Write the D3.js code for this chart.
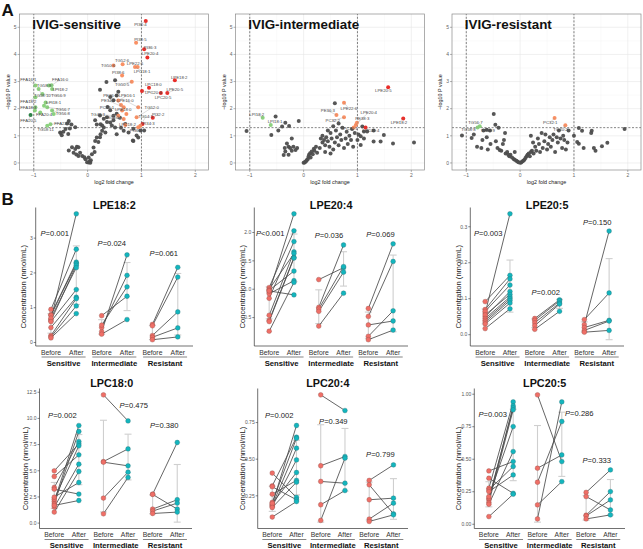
<!DOCTYPE html>
<html>
<head>
<meta charset="utf-8">
<script src="https://cdn.jsdelivr.net/npm/d3@7"></script>
<style>
  body { margin: 0; background: #fff; }
  text { font-family: "Liberation Sans", Arial, sans-serif; }
</style>
</head>
<body>
<script>
// ---------- panel A data: [log2 fold change, -log10 P, class, name] ----------
// class: n = not significant, r = up (FC>=2), o = up, g = down, d = down (FC<=0.5)
var sensitivePts = [
  [-0.50,1.10,"n"],[-0.48,1.02,"n"],[-0.45,1.15,"n"],[-0.36,1.07,"n"],[-0.33,1.27,"n"],[-0.35,1.55,"n"],
  [-0.30,1.42,"n"],[-0.51,1.12,"n"],[-0.41,1.25,"n"],[-0.38,1.45,"n"],[-0.23,0.51,"n"],[-0.14,0.38,"n"],
  [-0.10,0.26,"n"],[-0.26,0.38,"n"],[-0.17,0.26,"n"],[-0.04,0.14,"n"],[-0.01,0.03,"n"],[0.02,0.02,"n"],
  [0.04,0.06,"n"],[0.05,0.01,"n"],[0.02,0.20,"n"],[0.08,0.32,"n"],[0.11,0.57,"n"],[0.14,0.81,"n"],
  [0.17,0.94,"n"],[0.24,1.06,"n"],[0.27,1.19,"n"],[0.30,1.31,"n"],[-0.20,0.60,"n"],[-0.17,0.58,"n"],
  [-0.21,0.31,"n"],[-0.06,0.21,"n"],[0.06,0.10,"n"],[0.13,0.40,"n"],[0.20,0.77,"n"],[0.23,0.95,"n"],
  [0.24,1.43,"n"],[0.42,1.49,"n"],[0.51,1.31,"n"],[0.54,1.06,"n"],[0.67,1.19,"n"],[0.76,1.12,"n"],
  [0.85,0.81,"n"],[0.94,0.94,"n"],[0.48,1.74,"n"],[0.36,1.68,"n"],[0.35,2.98,"n"],[0.23,2.70,"n"],
  [0.51,3.05,"n"],[0.54,2.49,"n"],[0.48,2.31,"n"],[0.42,2.43,"n"],[0.57,2.62,"n"],[0.37,2.06,"n"],
  [0.42,1.94,"n"],[0.23,1.75,"n"],[0.30,1.63,"n"],[0.36,1.51,"n"],[0.27,1.38,"n"],[0.48,1.57,"n"],
  [0.54,1.81,"n"],[0.60,1.67,"n"],[0.70,1.44,"n"],[0.17,1.42,"n"],[0.14,1.57,"n"],[0.85,1.26,"n"],
  [0.91,1.01,"n"],[0.98,1.20,"n"],[0.84,0.83,"n"],[1.05,1.20,"n"],[-0.23,1.32,"n"],[-0.29,0.58,"n"],
  [-0.35,0.46,"n"],[0.45,1.38,"n"],[0.33,1.12,"n"],[0.62,1.30,"n"],
  [1.08,5.23,"r","PI36:4"],[1.05,4.19,"r","PI36:3"],[1.11,3.89,"r","LPE20:4"],[1.62,3.05,"r","LPE18:2"],
  [1.14,2.77,"r","LPC18:0"],[1.01,2.65,"r","LPC20:4"],[1.36,2.58,"r","LPC20:5"],[1.48,2.58,"r","LPE20:5"],
  [1.21,1.67,"r","PI32:2"],[1.02,1.44,"r","PI34:3"],
  [0.90,4.43,"o","PI38:5"],[0.65,3.64,"o","TG52:6"],[0.48,3.59,"o","TG50:6"],[0.93,3.54,"o","LPE22:6"],
  [0.88,3.54,"o","LPC18:1"],[0.64,3.22,"o","PI38:6"],[0.82,2.99,"o","TG50:5"],[0.57,2.30,"o","LPE16:1"],
  [0.62,2.14,"o","PE36:3"],[0.94,2.05,"o","LPE16:0"],[0.67,2.05,"o","PE34:2"],[0.64,1.93,"o","PC36:1"],
  [0.72,1.80,"o","LPE18:0"],[0.91,1.68,"o","TG52:0"],[0.57,1.74,"o","TG48:3"],[0.67,1.62,"o","TG54:0"],
  [0.98,1.37,"o","TG54:1"],[0.70,1.40,"o","LPC18:2"],[0.94,1.32,"o","PI36:0"],
  [-0.97,2.85,"g","FFA16:1"],[-0.67,2.86,"g","FFA16:0"],[-0.72,2.85,"g","TG58:9"],[-0.66,2.73,"g","LPI18:2"],
  [-0.91,2.73,"g","TG58:10"],[-0.84,2.54,"g","TG56:9"],[-0.97,2.42,"g","FFA18:2"],[-0.78,2.23,"g","LPI18:1"],
  [-0.81,2.11,"g"],[-0.97,2.05,"g","FFA18:3"],[-0.75,2.05,"g","TG56:7"],[-0.66,1.93,"g","TG56:8"],
  [-0.98,1.93,"g"],[-0.88,1.86,"g","FFA20:4"],[-0.63,1.80,"g"],[-1.06,1.77,"d","FFA20:5"],
  [-0.69,1.43,"g","FFA22:6"],[-0.75,1.37,"g","TG58:11"]
];
var sensitiveLabels = [
  ["PI36:4",0.98,5.11],["PI38:5",0.98,4.56],["PI36:3",1.16,4.27],["LPE20:4",1.16,4.03],["TG52:6",0.64,3.78],
  ["TG50:6",0.38,3.59],["LPE22:6",0.88,3.68],["LPC18:1",1.01,3.38],["PI38:6",0.57,3.34],["LPE18:2",1.70,3.16],
  ["TG50:5",0.64,2.90],["LPC18:0",1.22,2.91],["LPC20:4",1.22,2.60],["LPE20:5",1.62,2.69],["LPC20:5",1.40,2.40],
  ["LPE16:1",0.73,2.48],["PE36:3",0.42,2.48],["PE34:2",0.38,2.30],["LPE16:0",0.70,2.30],["PC36:1",0.36,2.05],
  ["LPE18:0",0.66,1.96],["TG52:0",1.19,2.03],["TG48:3",0.19,1.78],["TG54:0",0.45,1.68],["TG54:1",1.08,1.70],
  ["PI32:2",1.31,1.78],["LPC18:2",0.74,1.41],["PI34:3",1.13,1.46],["PI36:0",0.90,1.19],
  ["FFA16:1",-1.10,3.07],["FFA16:0",-0.51,3.07],["TG58:9",-0.81,2.86],["LPI18:2",-0.51,2.71],["TG58:10",-0.84,2.49],
  ["TG56:9",-0.54,2.49],["FFA18:2",-1.10,2.27],["LPI18:1",-0.63,2.21],["FFA18:3",-1.10,2.03],["TG56:7",-0.46,1.97],
  ["TG56:8",-0.46,1.83],["FFA20:4",-0.81,1.80],["FFA20:5",-1.10,1.56],["FFA22:6",-0.47,1.46],["TG58:11",-0.78,1.25]
];

var intermediatePts = [
  [0.58,2.20,"n"],[-0.52,1.71,"n"],[-0.09,1.55,"n"],[-0.34,1.48,"n"],[-0.27,1.36,"n"],[-0.40,1.34,"n"],
  [-1.06,1.18,"n"],[-0.60,1.03,"n"],[-0.31,0.72,"n"],[-0.28,0.60,"n"],[-0.25,0.55,"n"],[-0.34,0.42,"n"],
  [-0.37,0.29,"n"],[-0.19,0.60,"n"],[-0.12,0.55,"n"],[-0.22,0.45,"n"],[-0.28,0.30,"n"],[-0.15,0.48,"n"],
  [-0.35,0.55,"n"],[0.00,0.01,"n"],[0.03,0.04,"n"],[0.06,0.11,"n"],[0.09,0.23,"n"],[0.12,0.36,"n"],
  [0.15,0.42,"n"],[0.19,0.52,"n"],[0.23,0.60,"n"],[0.02,0.02,"n"],[0.05,0.07,"n"],[0.08,0.15,"n"],
  [0.10,0.30,"n"],[0.13,0.20,"n"],[0.17,0.32,"n"],[0.20,0.45,"n"],[0.25,0.38,"n"],[0.35,0.75,"n"],
  [0.38,0.85,"n"],[0.40,0.65,"n"],[0.42,0.95,"n"],[0.45,0.80,"n"],[0.48,0.60,"n"],[0.50,1.10,"n"],
  [0.52,0.90,"n"],[0.55,0.50,"n"],[0.58,0.75,"n"],[0.60,1.20,"n"],[0.62,0.95,"n"],[0.65,0.65,"n"],
  [0.68,1.05,"n"],[0.70,0.85,"n"],[0.72,1.30,"n"],[0.75,0.55,"n"],[0.78,0.90,"n"],[0.80,1.15,"n"],
  [0.82,0.70,"n"],[0.85,1.00,"n"],[0.88,0.85,"n"],[0.90,1.25,"n"],[0.92,0.60,"n"],[0.95,1.10,"n"],
  [0.35,1.00,"n"],[0.30,0.55,"n"],[0.45,1.20,"n"],[0.55,1.35,"n"],[0.40,0.40,"n"],[0.32,0.90,"n"],
  [0.65,1.45,"n"],[0.50,0.35,"n"],[1.09,1.34,"n"],[1.12,1.16,"n"],[1.18,1.16,"n"],[1.06,0.98,"n"],
  [1.30,1.20,"n"],[1.49,1.03,"n"],[1.30,0.79,"n"],[1.43,0.79,"n"],[1.06,0.66,"n"],[1.66,0.72,"n"],
  [2.05,0.75,"n"],[1.12,0.90,"n"],[1.00,0.85,"n"],[1.02,1.05,"n"],[-0.47,1.20,"n"],[-0.22,0.90,"n"],
  [1.57,2.79,"r","LPE20:5"],[1.85,1.64,"r","LPE18:2"],[1.15,1.31,"r","LPC20:4"],
  [0.75,2.22,"o","LPE22:6"],[0.61,1.77,"o","PE36:3"],[0.75,1.68,"o","PC32:2"],[0.99,1.48,"o","LPE20:4"],
  [0.97,1.40,"o","PE38:3"],[0.93,1.31,"o","PC36:1"],
  [-0.76,1.67,"g","LPI18:2"],[-0.61,1.40,"g","LPI18:1"]
];
var intermediateLabels = [
  ["LPE20:5",1.48,2.66],["LPE18:2",1.77,1.48],["LPE22:6",0.84,2.01],["PE36:3",0.45,1.92],["PC32:2",0.54,1.56],
  ["LPE20:4",1.21,1.86],["PE38:3",1.09,1.64],["PC36:1",0.87,1.27],["LPC20:4",1.25,1.18],
  ["LPI18:2",-0.87,1.79],["LPI18:1",-0.53,1.52]
];

var resistantPts = [
  [-0.49,1.80,"n"],[-0.46,1.41,"n"],[-0.40,1.30,"n"],[-1.08,1.01,"n"],[-0.90,0.92,"n"],[-0.86,1.05,"n"],
  [-0.68,1.20,"n"],[-0.56,1.20,"n"],[-0.62,0.95,"n"],[-0.70,0.85,"n"],[-0.80,0.60,"n"],[-0.72,0.55,"n"],
  [-0.60,0.50,"n"],[-0.45,0.80,"n"],[-0.42,0.55,"n"],[-0.38,0.48,"n"],[-0.35,0.45,"n"],[-0.32,0.70,"n"],
  [-0.30,0.85,"n"],[-0.28,1.10,"n"],[-0.27,0.35,"n"],[-0.24,0.40,"n"],[-0.22,0.30,"n"],[-0.20,0.25,"n"],
  [-0.18,0.30,"n"],[-0.15,0.20,"n"],[-0.12,0.15,"n"],[-0.10,0.12,"n"],[-0.07,0.08,"n"],[-0.05,0.05,"n"],
  [-0.03,0.03,"n"],[0.00,0.01,"n"],[0.02,0.02,"n"],[0.04,0.05,"n"],[0.06,0.08,"n"],[0.08,0.12,"n"],
  [0.10,0.18,"n"],[0.12,0.25,"n"],[0.14,0.30,"n"],[0.16,0.35,"n"],[0.18,0.25,"n"],[0.20,0.40,"n"],
  [0.22,0.45,"n"],[0.25,0.35,"n"],[0.20,1.00,"n"],[0.24,0.75,"n"],[0.28,0.60,"n"],[0.30,0.45,"n"],
  [0.33,0.90,"n"],[0.35,0.70,"n"],[0.37,0.40,"n"],[0.40,1.10,"n"],[0.42,0.55,"n"],[0.45,0.80,"n"],
  [0.47,1.05,"n"],[0.50,0.50,"n"],[0.52,0.70,"n"],[0.55,0.95,"n"],[0.57,0.60,"n"],[0.60,0.85,"n"],
  [0.62,1.05,"n"],[0.65,0.40,"n"],[0.68,0.95,"n"],[0.70,0.75,"n"],[0.72,1.20,"n"],[0.75,0.90,"n"],
  [0.78,0.55,"n"],[0.80,1.00,"n"],[0.82,0.85,"n"],[0.85,0.50,"n"],[0.88,0.75,"n"],[0.90,1.20,"n"],
  [1.09,1.29,"n"],[1.15,1.19,"n"],[1.33,1.19,"n"],[1.32,1.10,"n"],[1.06,0.77,"n"],[1.09,0.71,"n"],
  [1.18,0.55,"n"],[1.37,0.55,"n"],[1.40,0.45,"n"],[1.52,0.62,"n"],[1.62,0.74,"n"],[1.94,1.25,"n"],
  [1.00,1.00,"n"],[-0.10,0.40,"n"],[-0.55,0.70,"n"],[-0.62,1.22,"n","TG58:9"],
  [0.64,1.66,"o","PC32:1"],[0.84,1.39,"o","TG60:2"],
  [-0.75,1.35,"g","TG56:7"],[-0.79,1.31,"g","TG58:8"]
];
var resistantLabels = [
  ["PC32:1",0.56,1.50],["TG60:2",0.75,1.24],["TG56:7",-0.83,1.48],["TG58:8",-0.96,1.25],["TG58:9",-0.60,1.19]
];

// ---------- panel B data: [group, before, after] per patient ----------
var lpe182 = [
  ["Sensitive",0.66,3.70],["Sensitive",0.95,2.68],["Sensitive",0.80,2.31],["Sensitive",0.78,2.27],
  ["Sensitive",0.62,2.22],["Sensitive",0.70,2.15],["Sensitive",0.60,1.52],["Sensitive",0.43,1.30],
  ["Sensitive",0.20,1.26],["Sensitive",0.16,1.05],["Sensitive",0.13,0.83],
  ["Intermediate",0.31,2.52],["Intermediate",0.43,1.93],["Intermediate",0.50,1.60],["Intermediate",0.77,1.33],["Intermediate",0.24,0.66],
  ["Resistant",0.52,2.16],["Resistant",0.48,1.88],["Resistant",0.20,0.88],["Resistant",0.15,0.42],["Resistant",0.08,0.16]
];
var lpe204 = [
  ["Sensitive",0.95,2.33],["Sensitive",1.03,2.03],["Sensitive",0.84,1.84],["Sensitive",0.54,1.66],
  ["Sensitive",1.00,1.63],["Sensitive",0.45,1.56],["Sensitive",0.43,1.55],["Sensitive",0.98,1.32],
  ["Sensitive",0.92,1.15],["Sensitive",0.26,1.12],["Sensitive",0.97,0.90],
  ["Intermediate",1.17,1.38],["Intermediate",0.68,1.78],["Intermediate",0.65,1.40],["Intermediate",0.61,1.30],["Intermediate",0.35,0.93],
  ["Resistant",0.66,1.80],["Resistant",0.52,1.49],["Resistant",0.37,0.44],["Resistant",0.17,0.62],["Resistant",0.11,0.28]
];
var lpe205 = [
  ["Sensitive",0.060,0.336],["Sensitive",0.092,0.165],["Sensitive",0.070,0.155],["Sensitive",0.065,0.138],
  ["Sensitive",0.050,0.120],["Sensitive",0.055,0.112],["Sensitive",0.045,0.105],["Sensitive",0.040,0.100],
  ["Sensitive",0.035,0.095],["Sensitive",0.030,0.088],["Sensitive",0.017,0.072],
  ["Intermediate",0.045,0.097],["Intermediate",0.040,0.094],["Intermediate",0.033,0.088],["Intermediate",0.025,0.085],["Intermediate",0.015,0.065],
  ["Resistant",0.028,0.288],["Resistant",0.042,0.116],["Resistant",0.020,0.040],["Resistant",0.012,0.038],["Resistant",0.007,0.012]
];
var lpc180 = [
  ["Sensitive",2.07,9.32],["Sensitive",1.84,8.75],["Sensitive",3.40,7.79],["Sensitive",4.99,7.57],
  ["Sensitive",2.29,7.38],["Sensitive",4.45,6.52],["Sensitive",1.53,5.63],["Sensitive",1.05,4.93],
  ["Sensitive",2.48,3.88],["Sensitive",3.24,2.77],["Sensitive",1.69,2.16],
  ["Intermediate",12.25,9.76],["Intermediate",5.88,7.09],["Intermediate",5.82,5.47],["Intermediate",2.39,4.87],["Intermediate",0.89,4.36],
  ["Resistant",2.77,7.70],["Resistant",2.74,1.34],["Resistant",1.34,2.23],["Resistant",1.15,1.91],["Resistant",0.92,1.05]
];
var lpc204 = [
  ["Sensitive",0.190,0.730],["Sensitive",0.318,0.650],["Sensitive",0.205,0.643],["Sensitive",0.184,0.575],
  ["Sensitive",0.177,0.495],["Sensitive",0.198,0.409],["Sensitive",0.261,0.355],["Sensitive",0.170,0.343],
  ["Sensitive",0.405,0.239],["Sensitive",0.312,0.223],["Sensitive",0.105,0.211],
  ["Intermediate",0.939,0.832],["Intermediate",0.455,0.518],["Intermediate",0.348,0.336],["Intermediate",0.189,0.286],["Intermediate",0.082,0.507],
  ["Resistant",0.355,0.461],["Resistant",0.325,0.127],["Resistant",0.223,0.234],["Resistant",0.091,0.200],["Resistant",0.075,0.120]
];
var lpc205 = [
  ["Sensitive",0.277,0.941],["Sensitive",0.187,0.910],["Sensitive",0.200,0.895],["Sensitive",0.167,0.880],
  ["Sensitive",0.213,0.751],["Sensitive",0.154,0.559],["Sensitive",0.410,0.482],["Sensitive",0.264,0.444],
  ["Sensitive",0.251,0.379],["Sensitive",0.354,0.238],["Sensitive",0.059,0.231],
  ["Intermediate",0.995,0.482],["Intermediate",0.431,0.533],["Intermediate",0.323,0.790],["Intermediate",0.149,0.328],["Intermediate",0.041,0.941],
  ["Resistant",0.245,0.418],["Resistant",0.213,0.110],["Resistant",0.070,0.251],["Resistant",0.064,0.187],["Resistant",0.041,0.072]
];

var groups = ["Sensitive", "Intermediate", "Resistant"];
var times = ["Before", "After"];

// p value text and where it sits: [text, x (0..5 along the six columns), y in data units]
var pLpe182 = [["=0.001",0.15,3.14],["=0.024",2.4,2.84],["=0.061",4.45,2.55]];
var pLpe204 = [["<0.001",0.04,1.98],["=0.036",2.41,1.95],["=0.069",4.49,1.97]];
var pLpe205 = [["=0.003",0.12,0.281],["=0.002",2.44,0.118],["=0.150",4.52,0.313]];
var pLpc180 = [["=0.002",0.33,10.33],["=0.475",3.23,11.29],["=0.380",4.47,9.38]];
var pLpc204 = [["=0.002",0.29,0.802],["=0.349",2.52,0.761],["=0.799",4.46,0.534]];
var pLpc205 = [["=0.003",0.16,0.846],["=0.286",3.72,0.854],["=0.333",4.44,0.495]];

var ticksLpe182 = ["0","1","2","3"];
var ticksLpe204 = ["0.5","1.0","1.5","2.0"];
var ticksLpe205 = ["0.0","0.1","0.2","0.3"];
var ticksLpc180 = ["0.0","2.5","5.0","7.5","10.0","12.5"];
var ticksLpc204 = ["0.25","0.50","0.75"];
var ticksLpc205 = ["0.00","0.25","0.50","0.75","1.00"];

var volcanoXTicks = ["-1","0","1","2"];
var volcanoYTicks = ["0","1","2","3","4","5"];

var ptColor = {n: "#4d4d4d", r: "#e8221e", o: "#f98a5c", g: "#86cf78", d: "#1e7a3a"};

var svg = d3.select("body").append("svg")
    .attr("width", 643)
    .attr("height", 549)
    .style("background", "#fff");

//---------------- volcano panels ----------------
function volcano(left, title, pts, labels){
    var x = d3.scaleLinear().domain([-1.265, 2.245]).range([left, left + 189]),
        y = d3.scaleLinear().domain([-0.26, 5.49]).range([170, 14]);
    var g = svg.append("g");
    var x0 = x.range()[0], x1 = x.range()[1], y0 = y.range()[0], y1 = y.range()[1];

    //grid, minor then major
    g.selectAll(".vmin").data([-0.5, 0.5, 1.5]).enter().append("line")
      .attr("x1", x).attr("x2", x).attr("y1", y0).attr("y2", y1)
      .attr("stroke", "#f2f2f2").attr("stroke-width", 0.4);
    g.selectAll(".hmin").data([0.5, 1.5, 2.5, 3.5, 4.5]).enter().append("line")
      .attr("x1", x0).attr("x2", x1).attr("y1", y).attr("y2", y)
      .attr("stroke", "#f2f2f2").attr("stroke-width", 0.4);
    g.selectAll(".vmaj").data(volcanoXTicks.map(Number)).enter().append("line")
      .attr("x1", x).attr("x2", x).attr("y1", y0).attr("y2", y1)
      .attr("stroke", "#e6e6e6").attr("stroke-width", 0.6);
    g.selectAll(".hmaj").data(volcanoYTicks.map(Number)).enter().append("line")
      .attr("x1", x0).attr("x2", x1).attr("y1", y).attr("y2", y)
      .attr("stroke", "#e6e6e6").attr("stroke-width", 0.6);

    //threshold lines
    g.selectAll(".thr").data([-1, 1]).enter().append("line")
      .attr("x1", x).attr("x2", x).attr("y1", y0).attr("y2", y1)
      .attr("stroke", "#333").attr("stroke-width", 0.6).attr("stroke-dasharray", "2,1.6");
    g.append("line")
      .attr("x1", x0).attr("x2", x1).attr("y1", y(1.301)).attr("y2", y(1.301))
      .attr("stroke", "#333").attr("stroke-width", 0.6).attr("stroke-dasharray", "2,1.6");

    //points, grey first
    var order = pts.slice().sort(function(a, b){ return (a[2] === "n" ? 0 : 1) - (b[2] === "n" ? 0 : 1); });
    g.selectAll(".pt").data(order).enter().append("circle")
      .attr("cx", function(d){ return x(d[0]); })
      .attr("cy", function(d){ return y(d[1]); })
      .attr("r", 2.0)
      .attr("fill", function(d){ return ptColor[d[2]]; })
      .attr("fill-opacity", 0.95);

    //repelled labels with segments
    var byName = {};
    pts.forEach(function(d){ if (d[3]) byName[d[3]] = d; });
    labels.forEach(function(l){
      var p = byName[l[0]], lx = x(l[1]), ly = y(l[2]);
      if (p) {
        var px = x(p[0]), py = y(p[1]);
        if (Math.hypot(px - lx, py - ly) > 6) {
          g.append("line").attr("x1", lx).attr("y1", ly).attr("x2", px).attr("y2", py)
            .attr("stroke", "#888").attr("stroke-width", 0.3);
        }
      }
      g.append("text").attr("x", lx).attr("y", ly).attr("dy", "0.35em")
        .attr("text-anchor", "middle").attr("font-size", 4.3).attr("fill", "#444")
        .text(l[0]);
    });

    //border
    g.append("rect").attr("x", x0).attr("y", y1).attr("width", x1 - x0).attr("height", y0 - y1)
      .attr("fill", "none").attr("stroke", "#8a8a8a").attr("stroke-width", 0.7);

    //ticks
    g.selectAll(".xt").data(volcanoXTicks).enter().append("line")
      .attr("x1", function(d){ return x(+d); }).attr("x2", function(d){ return x(+d); })
      .attr("y1", y0).attr("y2", y0 + 2).attr("stroke", "#666").attr("stroke-width", 0.5);
    g.selectAll(".xl").data(volcanoXTicks).enter().append("text")
      .attr("x", function(d){ return x(+d); }).attr("y", y0 + 6.5)
      .attr("text-anchor", "middle").attr("font-size", 5).attr("fill", "#666")
      .text(function(d){ return d.replace("-", "\u2212"); });
    g.selectAll(".yt").data(volcanoYTicks).enter().append("line")
      .attr("x1", x0 - 2).attr("x2", x0)
      .attr("y1", function(d){ return y(+d); }).attr("y2", function(d){ return y(+d); })
      .attr("stroke", "#666").attr("stroke-width", 0.5);
    g.selectAll(".yl").data(volcanoYTicks).enter().append("text")
      .attr("x", x0 - 3).attr("y", function(d){ return y(+d); }).attr("dy", "0.35em")
      .attr("text-anchor", "end").attr("font-size", 5).attr("fill", "#666")
      .text(function(d){ return d; });

    //axis titles
    g.append("text").attr("x", (x0 + x1) / 2).attr("y", 184)
      .attr("text-anchor", "middle").attr("font-size", 5.4).attr("fill", "#222")
      .text("log2 fold change");
    g.append("text")
      .attr("transform", "translate(" + (x0 - 10) + "," + ((y0 + y1) / 2) + ") rotate(-90)")
      .attr("text-anchor", "middle").attr("font-size", 5.4).attr("fill", "#222")
      .text("\u2212log10 P value");

    //title inside panel
    g.append("text").attr("x", x(-1) - 1.5).attr("y", y(5) + 1.8)
      .attr("font-size", 13.4).attr("font-weight", "bold").attr("fill", "#111")
      .text(title);
}

volcano(19.5, "IVIG-sensitive", sensitivePts, sensitiveLabels);
volcano(235.5, "IVIG-intermediate", intermediatePts, intermediateLabels);
volcano(452, "IVIG-resistant", resistantPts, resistantLabels);

//---------------- paired before/after panels ----------------
function paired(frame, title, rows, pTexts, tickLabels){
    var g = svg.append("g");
    var cols = [];
    groups.forEach(function(gr){ times.forEach(function(t){ cols.push(gr + "|" + t); }); });
    var xp = d3.scalePoint().domain(cols).range([frame.L, frame.R]).padding(0.6);
    var xi = d3.scaleLinear().domain([0, 5]).range([xp(cols[0]), xp(cols[5])]);

    //mean +/- sd per column
    var stats = cols.map(function(c){
      var parts = c.split("|"), k = parts[1] === "Before" ? 1 : 2;
      var v = rows.filter(function(r){ return r[0] === parts[0]; }).map(function(r){ return r[k]; });
      var m = d3.mean(v), s = d3.deviation(v);
      return {col: c, lo: m - s, hi: m + s};
    });
    var allVals = [];
    rows.forEach(function(r){ allVals.push(r[1], r[2]); });
    stats.forEach(function(s){ allVals.push(s.lo, s.hi); });
    var ext = d3.extent(allVals), pad = (ext[1] - ext[0]) * 0.05;
    var y = d3.scaleLinear().domain([ext[0] - pad, ext[1] + pad]).range([frame.bottom, frame.top]);

    //error bars
    var eb = g.selectAll(".eb").data(stats).enter().append("g").attr("stroke", "#cfcfcf").attr("stroke-width", 1.1);
    eb.append("line").attr("x1", function(d){ return xp(d.col); }).attr("x2", function(d){ return xp(d.col); })
      .attr("y1", function(d){ return y(d.lo); }).attr("y2", function(d){ return y(d.hi); });
    eb.append("line").attr("x1", function(d){ return xp(d.col) - 3.5; }).attr("x2", function(d){ return xp(d.col) + 3.5; })
      .attr("y1", function(d){ return y(d.lo); }).attr("y2", function(d){ return y(d.lo); });
    eb.append("line").attr("x1", function(d){ return xp(d.col) - 3.5; }).attr("x2", function(d){ return xp(d.col) + 3.5; })
      .attr("y1", function(d){ return y(d.hi); }).attr("y2", function(d){ return y(d.hi); });

    //paired lines
    g.selectAll(".pl").data(rows).enter().append("line")
      .attr("x1", function(d){ return xp(d[0] + "|Before"); })
      .attr("x2", function(d){ return xp(d[0] + "|After"); })
      .attr("y1", function(d){ return y(d[1]); })
      .attr("y2", function(d){ return y(d[2]); })
      .attr("stroke", "#4a4a4a").attr("stroke-width", 0.85);

    //points
    g.selectAll(".pb").data(rows).enter().append("circle")
      .attr("cx", function(d){ return xp(d[0] + "|Before"); })
      .attr("cy", function(d){ return y(d[1]); })
      .attr("r", 2.4).attr("fill", "#ef6f67").attr("stroke", "#8a4a46").attr("stroke-width", 0.35);
    g.selectAll(".pa").data(rows).enter().append("circle")
      .attr("cx", function(d){ return xp(d[0] + "|After"); })
      .attr("cy", function(d){ return y(d[2]); })
      .attr("r", 2.4).attr("fill", "#13b5bd").attr("stroke", "#2c6f73").attr("stroke-width", 0.35);

    //p values
    pTexts.forEach(function(p){
      var t = g.append("text").attr("x", xi(p[1])).attr("y", y(p[2])).attr("dy", "0.35em")
        .attr("text-anchor", "middle").attr("font-size", 7.6).attr("fill", "#222");
      t.append("tspan").attr("font-style", "italic").text("P");
      t.append("tspan").text(p[0]);
    });

    //axes
    g.append("line").attr("x1", frame.L).attr("x2", frame.L).attr("y1", frame.bottom).attr("y2", frame.top)
      .attr("stroke", "#333").attr("stroke-width", 0.7);
    g.append("line").attr("x1", frame.L).attr("x2", frame.R).attr("y1", frame.bottom).attr("y2", frame.bottom)
      .attr("stroke", "#333").attr("stroke-width", 0.7);
    g.selectAll(".yt").data(tickLabels).enter().append("line")
      .attr("x1", frame.L - 2).attr("x2", frame.L)
      .attr("y1", function(d){ return y(+d); }).attr("y2", function(d){ return y(+d); })
      .attr("stroke", "#333").attr("stroke-width", 0.6);
    g.selectAll(".yl").data(tickLabels).enter().append("text")
      .attr("x", frame.L - 3).attr("y", function(d){ return y(+d); }).attr("dy", "0.35em")
      .attr("text-anchor", "end").attr("font-size", 5).attr("fill", "#555")
      .text(function(d){ return d; });

    //x labels
    g.selectAll(".tl").data(cols).enter().append("text")
      .attr("x", function(d){ return xp(d); }).attr("y", frame.bottom + 8.5)
      .attr("text-anchor", "middle").attr("font-size", 6.8).attr("fill", "#333")
      .text(function(d){ return d.split("|")[1]; });
    groups.forEach(function(gr){
      var cx = (xp(gr + "|Before") + xp(gr + "|After")) / 2;
      g.append("line").attr("x1", cx - 22).attr("x2", cx + 22)
        .attr("y1", frame.bottom + 11).attr("y2", frame.bottom + 11)
        .attr("stroke", "#666").attr("stroke-width", 0.8);
      g.append("text").attr("x", cx).attr("y", frame.bottom + 19.5)
        .attr("text-anchor", "middle").attr("font-size", 7.7).attr("font-weight", "bold").attr("fill", "#111")
        .text(gr);
    });

    //y title
    g.append("text")
      .attr("transform", "translate(" + frame.yLabX + "," + ((frame.top + frame.bottom + 20) / 2) + ") rotate(-90)")
      .attr("dy", "0.35em").attr("text-anchor", "middle").attr("font-size", 7.6).attr("fill", "#222")
      .text("Concentration (nmol/mL)");

    //title
    g.append("text").attr("x", (frame.L + frame.R) / 2 + frame.titleDx).attr("y", frame.titleY)
      .attr("text-anchor", "middle").attr("font-size", 10.8).attr("font-weight", "bold").attr("fill", "#111")
      .text(title);
}

paired({L: 35.7, R: 193, top: 207.5, bottom: 346, yLabX: 23, titleY: 209, titleDx: 0}, "LPE18:2", lpe182, pLpe182, ticksLpe182);
paired({L: 254.3, R: 408, top: 207.5, bottom: 346, yLabX: 242, titleY: 209, titleDx: 0}, "LPE20:4", lpe204, pLpe204, ticksLpe204);
paired({L: 470.3, R: 624, top: 207.5, bottom: 346, yLabX: 458, titleY: 209, titleDx: 0}, "LPE20:5", lpe205, pLpe205, ticksLpe205);
paired({L: 39.5, R: 192, top: 388.5, bottom: 528.5, yLabX: 25, titleY: 387, titleDx: -4}, "LPC18:0", lpc180, pLpc180, ticksLpc180);
paired({L: 257.7, R: 408, top: 388.5, bottom: 528.5, yLabX: 242, titleY: 387, titleDx: -5}, "LPC20:4", lpc204, pLpc204, ticksLpc204);
paired({L: 474.3, R: 625, top: 388.5, bottom: 528.5, yLabX: 458, titleY: 387, titleDx: -5}, "LPC20:5", lpc205, pLpc205, ticksLpc205);

//panel letters
svg.append("text").attr("x", 1.5).attr("y", 15.5).attr("font-size", 17).attr("font-weight", "bold").attr("fill", "#111").text("A");
svg.append("text").attr("x", 1.5).attr("y", 205).attr("font-size", 17).attr("font-weight", "bold").attr("fill", "#111").text("B");
</script>
</body>
</html>
